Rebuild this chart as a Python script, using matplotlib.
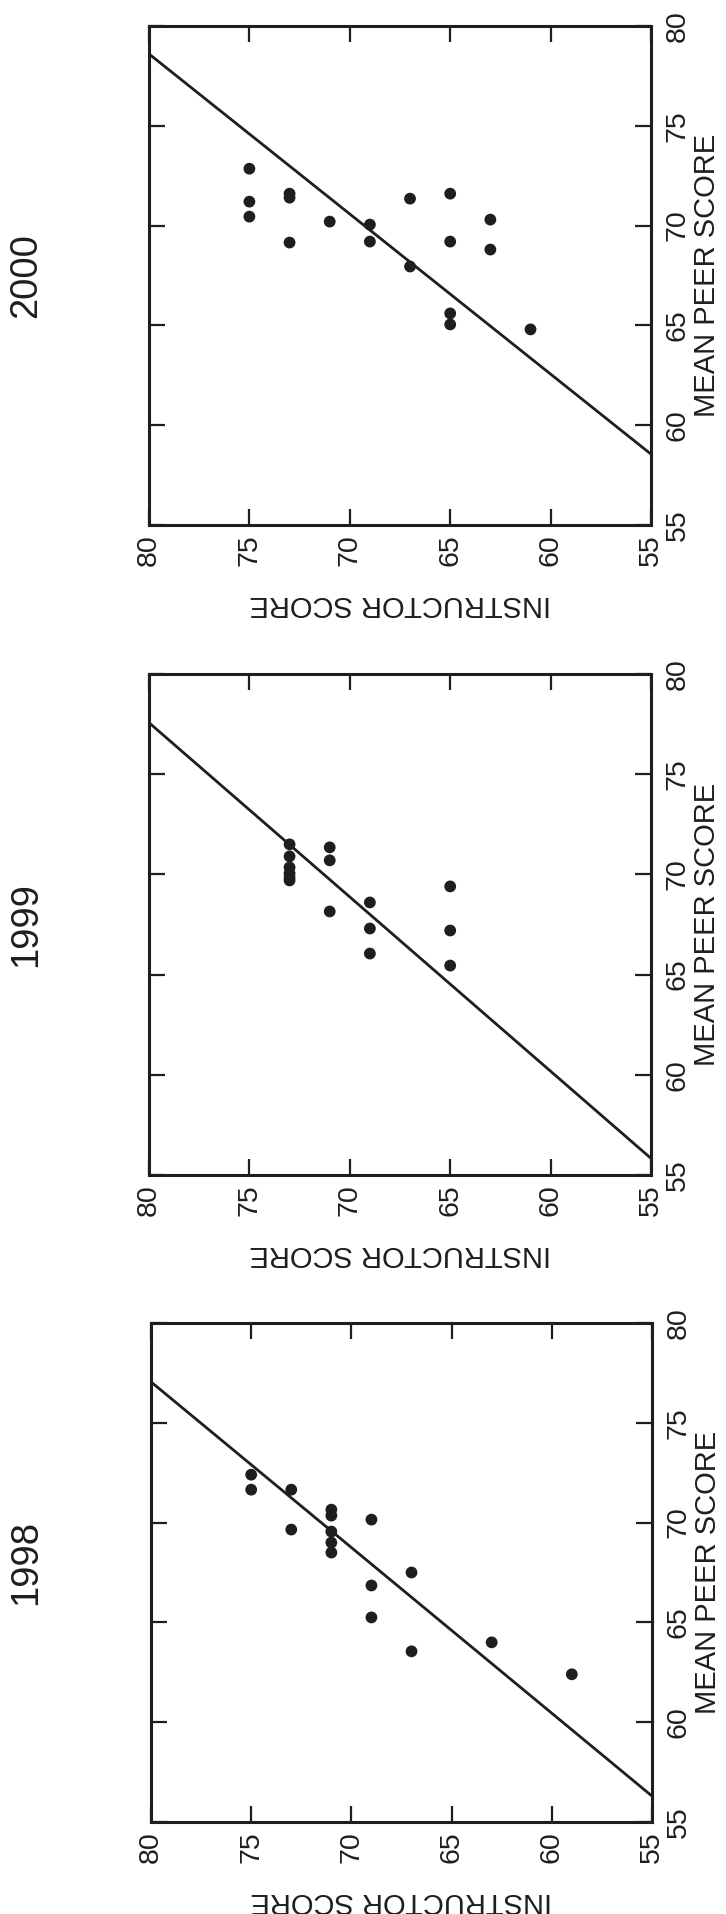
import matplotlib
matplotlib.use("Agg")
import matplotlib.pyplot as plt

plt.rcParams['font.family'] = ['Liberation Sans', 'DejaVu Sans']

years = ["2000", "1999", "1998"]

# instructor score (x) / mean peer score (y) per year
instr_2000 = [75, 75, 75, 73, 73, 73, 71, 69, 69, 67, 67, 65, 65, 65, 65, 63, 63, 61]
peer_2000 = [72.85, 71.2, 70.45, 71.6, 71.4, 69.15, 70.2, 70.05, 69.2, 71.35,
             67.95, 71.6, 69.2, 65.6, 65.05, 70.3, 68.8, 64.8]

instr_1999 = [73, 73, 73, 73, 73, 73, 71, 71, 71, 69, 69, 69, 65, 65, 65]
peer_1999 = [71.5, 70.9, 70.35, 70.05, 69.85, 69.7, 71.35, 70.7, 68.15,
             68.6, 67.3, 66.05, 69.4, 67.2, 65.45]

instr_1998 = [75, 75, 73, 73, 71, 71, 71, 71, 71, 69, 67, 69, 69, 67, 63, 59]
peer_1998 = [72.4, 71.65, 71.65, 69.65, 70.65, 70.35, 69.55, 69.0, 68.5,
             70.15, 67.5, 66.85, 65.25, 63.55, 64.0, 62.4]

# fitted line: peer score at instructor score 80 and at 55
fit_2000 = [78.6, 58.55]
fit_1999 = [77.57, 55.83]
fit_1998 = [77.05, 56.3]

instr_data = [instr_2000, instr_1999, instr_1998]
peer_data = [peer_2000, peer_1999, peer_1998]
fits = [fit_2000, fit_1999, fit_1998]
fit_x = [80, 55]

ticks = [55, 60, 65, 70, 75, 80]

# axes boxes in pixels (left, top, right, bottom) of a 726x1914 image
W, H = 726, 1914
boxes = [(149, 26, 651, 525), (149, 674, 651, 1175), (151, 1323, 652, 1822)]
title_pos = [0.5, 0.5, 0.52]

ink = '#1e1e1e'
fig = plt.figure(figsize=(W / 100, H / 100), dpi=100)

for year, xs, ys, fit, (l, t, r, b), ty in zip(years, instr_data, peer_data, fits,
                                              boxes, title_pos):
    ax = fig.add_axes([l / W, 1 - b / H, (r - l) / W, (b - t) / H])

    ax.scatter(xs, ys, s=72, color=ink, edgecolors='none', zorder=3)
    ax.plot(fit_x, fit, color=ink, linewidth=2.0, zorder=2)

    ax.set_xlim(80, 55)
    ax.set_ylim(55, 80)
    ax.set_xticks(ticks)
    ax.set_yticks(ticks)
    # the whole page is turned a quarter turn, so every tick label reads upwards
    ax.set_xticklabels([str(v) for v in ticks], rotation=90)
    ax.set_yticklabels([str(v) for v in ticks], rotation=90, va='center')
    ax.yaxis.tick_right()
    ax.tick_params(direction='in', length=11.5, width=1.6, colors=ink,
                   top=True, bottom=True, left=True, right=True,
                   labelsize=20.5, labelcolor=ink)
    ax.tick_params(axis='x', pad=6.5)
    ax.tick_params(axis='y', pad=10)

    for sp in ax.spines.values():
        sp.set_linewidth(2.2)
        sp.set_color(ink)

    ax.text(0.5, -(1887 - 1822) / 499, 'INSTRUCTOR SCORE', rotation=180,
            ha='center', va='top', fontsize=21, color=ink, transform=ax.transAxes)
    ax.text(1 + (693 - 651) / 502, 0.5, 'MEAN PEER SCORE', rotation=90,
            ha='left', va='center', fontsize=21, color=ink, transform=ax.transAxes)
    ax.text((26 - l) / (r - l), ty, year, rotation=90, ha='center', va='center',
            fontsize=27.5, color=ink, transform=ax.transAxes)

fig.savefig('out.png', dpi=100, facecolor='white')
